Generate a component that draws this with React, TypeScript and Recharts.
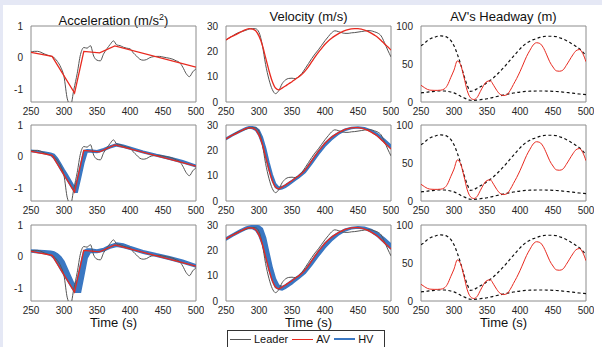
import React from "react";
import { ComposedChart, Line, Area, XAxis, YAxis, ReferenceArea } from "recharts";

// time grid (s)
const time = [250, 255, 260, 265, 270, 275, 280, 285, 290, 295, 300, 305, 310, 315, 320, 325, 330, 335, 340, 345, 350, 355, 360, 365, 370, 375, 380, 385, 390, 395, 400, 405, 410, 415, 420, 425, 430, 435, 440, 445, 450, 455, 460, 465, 470, 475, 480, 485, 490, 495, 500];
const timeTicks = [250, 300, 350, 400, 450, 500];

// acceleration
const leaderAcc = [0.18, 0.2, 0.2, 0.17, 0.12, 0.08, 0.05, 0.0, -0.12, -0.3, -0.6, -1.3, -1.5, -1.0, -0.5, 0.1, 0.32, 0.3, 0.38, 0.05, -0.08, -0.1, 0.12, 0.28, 0.42, 0.53, 0.4, 0.38, 0.33, 0.3, 0.28, 0.15, 0.05, -0.05, -0.08, -0.06, 0.0, 0.03, 0.04, 0.04, 0.02, 0.0, -0.02, -0.05, -0.1, -0.15, -0.3, -0.5, -0.6, -0.45, -0.35];
const avAccTime = [250, 282, 316, 330, 354, 377, 500];
const avAcc = [0.17, 0.04, -1.12, 0.2, 0.15, 0.37, -0.3];

const hvAccTime = [250, 270, 280, 285, 290, 295, 300, 305, 310, 316, 320, 325, 330, 335, 340, 350, 360, 370, 380, 390, 400, 420, 440, 460, 480, 500];
const hvAccLo2 = [0.16, 0.1, 0.04, -0.06, -0.23, -0.41, -0.58, -0.75, -0.92, -1.12, -1.12, -0.68, -0.2, 0.15, 0.15, 0.13, 0.19, 0.28, 0.34, 0.3, 0.24, 0.12, 0.02, -0.08, -0.19, -0.32];
const hvAccHi2 = [0.2, 0.15, 0.11, 0.07, -0.05, -0.22, -0.4, -0.57, -0.75, -0.96, -0.72, -0.25, 0.19, 0.22, 0.21, 0.19, 0.25, 0.34, 0.41, 0.36, 0.3, 0.17, 0.07, -0.02, -0.13, -0.27];
const hvAccLo3 = [0.15, 0.1, 0.04, -0.06, -0.23, -0.41, -0.58, -0.75, -0.92, -1.12, -1.12, -1.12, -0.6, -0.05, 0.14, 0.13, 0.18, 0.27, 0.33, 0.29, 0.23, 0.11, 0.01, -0.09, -0.2, -0.33];
const hvAccHi3 = [0.21, 0.19, 0.17, 0.15, 0.09, 0.0, -0.15, -0.38, -0.62, -0.9, -0.72, -0.25, 0.19, 0.24, 0.24, 0.21, 0.26, 0.36, 0.43, 0.4, 0.32, 0.19, 0.09, 0.0, -0.11, -0.26];

// velocity
const leaderVel = [24.5, 25.3, 26.1, 26.9, 27.5, 27.9, 28.3, 28.8, 29.0, 28.9, 27.5, 22.5, 14.8, 9.0, 5.0, 3.3, 4.5, 7.2, 8.7, 9.3, 9.4, 9.2, 10.0, 11.3, 13.2, 15.2, 17.2, 19.0, 20.6, 22.4, 24.2, 25.8, 27.3, 28.1, 27.8, 27.4, 27.1, 27.1, 27.3, 27.4, 27.6, 27.8, 28.0, 28.2, 28.1, 27.7, 27.2, 26.1, 23.5, 20.5, 17.8];
const avVel = [24.5, 25.3, 26.0, 26.6, 27.3, 28.0, 28.6, 29.0, 28.8, 28.1, 26.0, 22.5, 17.5, 12.5, 8.2, 5.5, 4.8, 5.5, 6.3, 7.2, 8.0, 9.0, 9.9, 10.9, 12.3, 14.0, 15.9, 17.8, 19.6, 21.2, 22.8, 24.1, 25.2, 26.1, 26.9, 27.6, 28.2, 28.6, 28.9, 29.0, 29.0, 28.8, 28.4, 27.9, 27.2, 26.4, 25.5, 24.3, 23.0, 21.8, 20.5];

const hvVelTime = [250, 260, 270, 280, 285, 290, 295, 300, 305, 310, 315, 320, 325, 330, 335, 340, 345, 350, 355, 360, 370, 380, 390, 400, 410, 420, 430, 440, 450, 460, 470, 480, 490, 500];
const hvVelLo2 = [24.2, 25.8, 27.1, 28.4, 28.8, 28.6, 27.9, 25.8, 22.3, 17.3, 12.3, 8.0, 5.3, 4.6, 4.8, 5.4, 6.3, 7.2, 8.2, 9.1, 11.3, 14.7, 18.3, 21.6, 24.2, 26.3, 27.8, 28.6, 28.9, 28.5, 27.4, 25.6, 23.1, 20.6];
const hvVelHi2 = [24.8, 26.3, 27.7, 28.9, 29.3, 29.3, 29.0, 28.0, 25.3, 20.8, 15.3, 10.5, 6.9, 5.4, 5.7, 6.4, 7.3, 8.1, 9.1, 10.0, 12.4, 16.0, 19.7, 22.9, 25.3, 27.0, 28.3, 29.0, 29.2, 28.9, 28.0, 26.5, 24.3, 22.0];
const hvVelLo3 = [24.0, 25.6, 27.0, 28.3, 28.7, 28.6, 27.9, 25.8, 22.3, 17.3, 12.3, 8.0, 5.3, 4.6, 4.4, 5.0, 5.9, 6.8, 7.8, 8.8, 11.0, 14.2, 17.7, 21.0, 23.8, 26.0, 27.6, 28.5, 28.8, 28.4, 27.2, 25.4, 22.9, 20.4];
const hvVelHi3 = [24.9, 26.4, 27.9, 29.1, 29.5, 29.8, 29.8, 29.6, 28.6, 25.0, 19.0, 13.2, 8.7, 6.2, 5.7, 6.4, 7.3, 8.2, 9.1, 10.0, 12.5, 16.0, 19.7, 22.9, 25.3, 27.0, 28.3, 29.0, 29.3, 29.1, 28.2, 26.8, 24.8, 22.5];

// headway
const avHeadway = [22, 19, 16.5, 15.5, 15.3, 15.3, 15.6, 17, 22, 32, 42, 54, 49, 33, 15, 5.5, 3.3, 6, 14, 22, 27, 27.8, 22, 15, 10, 8.5, 9.5, 15, 23, 31, 40, 50, 60, 68, 75, 78, 77, 72, 63, 53, 46, 41, 40.5, 42, 48, 55, 62, 67.5, 69, 64, 53];
const headwayUpper = [74, 77, 81, 83.5, 85, 86.5, 87, 86.5, 85, 81, 74, 63, 50, 35, 22, 14, 15, 17.5, 20, 22.5, 25.5, 28.5, 32, 36, 40.5, 45, 50, 55, 60, 65, 70, 74, 77.5, 80, 82, 83.5, 85, 86, 86.5, 86.5, 86.5, 86, 84.5, 83, 81, 78.5, 76, 73, 70, 66, 61];
const headwayLower = [12, 12.5, 13, 13.5, 14, 14.5, 14.5, 14.5, 14, 13.2, 12, 10, 7.5, 5.5, 3.5, 2.3, 2.2, 2.5, 3, 3.6, 4.3, 5.2, 6.2, 7.2, 8.2, 9.2, 10.2, 11, 11.8, 12.5, 13.1, 13.6, 14, 14.2, 14.4, 14.5, 14.5, 14.5, 14.4, 14.3, 14.1, 13.8, 13.4, 13, 12.6, 12.1, 11.6, 11, 10.5, 10.1, 9.7];

const pts = (ts: number[], vs: number[]) => ts.map((t, i) => ({ t, v: vs[i] }));
const band = (ts: number[], lo: number[], hi: number[]) => ts.map((t, i) => ({ t, r: [lo[i], hi[i]] }));

const FONT = "'Liberation Sans', Arial, Helvetica, sans-serif";
const GRAY = "#555555";
const RED = "#e8291f";
const BLUE = "#3a77c2";

const YW = 30, MT = 6, MR = 8, XH = 20, PW = 165, PH = 76;
const colX = [31, 226, 421];
const rowY = [26, 125, 225];
const tickStyle = { fontSize: 10, fill: "#262626", fontFamily: FONT };

type PanelProps = { x: number; y: number; domain: [number, number]; ticks: number[]; under?: React.ReactNode; over: React.ReactNode };

function Panel({ x, y, domain, ticks, under, over }: PanelProps) {
  const W = YW + PW + MR, H = MT + PH + XH;
  return (
    <div style={{ position: "absolute", left: x - YW, top: y - MT, width: W, height: H }}>
      <div style={{ position: "absolute", left: 0, top: 0 }}>
        <ComposedChart width={W} height={H} margin={{ top: MT, right: MR, left: 0, bottom: 0 }}>
          <XAxis type="number" dataKey="t" domain={[250, 500]} ticks={timeTicks} interval={0} allowDataOverflow
            height={XH} tickLine={false} axisLine={false} tickSize={3} tickMargin={3} tick={tickStyle} />
          <YAxis type="number" domain={domain} ticks={ticks} interval={0} allowDataOverflow
            width={YW} tickLine={false} axisLine={false} tickSize={4} tickMargin={4} tick={tickStyle} />
          <ReferenceArea x1={250} x2={500} y1={domain[0]} y2={domain[1]} fill="none" stroke="#8c8c8c" strokeWidth={1} />
          {under}
        </ComposedChart>
      </div>
      {/* lines drawn above the HV band */}
      <div style={{ position: "absolute", left: 0, top: 0 }}>
        <ComposedChart width={W} height={H} margin={{ top: MT, right: MR, left: YW, bottom: XH }}>
          <XAxis type="number" dataKey="t" domain={[250, 500]} allowDataOverflow hide />
          <YAxis type="number" domain={domain} allowDataOverflow hide />
          {over}
        </ComposedChart>
      </div>
    </div>
  );
}

function hvArea(data: any[]) {
  return (
    <Area data={data} dataKey="r" type="linear" stroke={BLUE} strokeWidth={1.5} fill={BLUE} fillOpacity={1}
      isAnimationActive={false} dot={false} activeDot={false} />
  );
}

function accPanel(row: number, hv: any[] | null) {
  return (
    <Panel key={"a" + row} x={colX[0]} y={rowY[row]} domain={[-1.4, 1]} ticks={[-1, 0, 1]}
      under={hv ? hvArea(hv) : null}
      over={[
        <Line key="l" data={pts(time, leaderAcc)} dataKey="v" type="monotone" stroke={GRAY} strokeWidth={1} dot={false} isAnimationActive={false} />,
        <Line key="a" data={pts(avAccTime, avAcc)} dataKey="v" type="linear" stroke={RED} strokeWidth={1.3} dot={false} isAnimationActive={false} />,
      ]} />
  );
}

function velPanel(row: number, hv: any[] | null) {
  return (
    <Panel key={"v" + row} x={colX[1]} y={rowY[row]} domain={[0, 30]} ticks={[0, 10, 20, 30]}
      under={hv ? hvArea(hv) : null}
      over={[
        <Line key="l" data={pts(time, leaderVel)} dataKey="v" type="monotone" stroke={GRAY} strokeWidth={1} dot={false} isAnimationActive={false} />,
        <Line key="a" data={pts(time, avVel)} dataKey="v" type="monotone" stroke={RED} strokeWidth={1.3} dot={false} isAnimationActive={false} />,
      ]} />
  );
}

function headPanel(row: number) {
  return (
    <Panel key={"h" + row} x={colX[2]} y={rowY[row]} domain={[0, 100]} ticks={[0, 50, 100]}
      over={[
        <Line key="u" data={pts(time, headwayUpper)} dataKey="v" type="monotone" stroke="#111" strokeWidth={1.2} strokeDasharray="3 2.5" dot={false} isAnimationActive={false} />,
        <Line key="d" data={pts(time, headwayLower)} dataKey="v" type="monotone" stroke="#111" strokeWidth={1.2} strokeDasharray="3 2.5" dot={false} isAnimationActive={false} />,
        <Line key="a" data={pts(time, avHeadway)} dataKey="v" type="monotone" stroke={RED} strokeWidth={1} dot={false} isAnimationActive={false} />,
      ]} />
  );
}

const titleStyle: React.CSSProperties = { position: "absolute", top: 9, width: PW, textAlign: "center", fontSize: 13, lineHeight: "16px", color: "#111" };
const xLabelStyle: React.CSSProperties = { position: "absolute", top: 316, width: PW, textAlign: "center", fontSize: 13, lineHeight: "14px", color: "#111" };

function LegendItem({ color, label, w }: { color: string; label: string; w: number }) {
  return (
    <span style={{ display: "inline-flex", alignItems: "center", marginRight: 4 }}>
      <span style={{ display: "inline-block", width: w, height: 0, borderTop: `${color === BLUE ? 2 : 1}px solid ${color}`, marginRight: 3 }} />
      <span>{label}</span>
    </span>
  );
}

export default function App() {
  return (
    <div style={{ position: "fixed", left: 0, top: 0, width: 602, height: 347, background: "#e5e8f5", overflow: "hidden", fontFamily: FONT }}>
      <div style={{ position: "absolute", left: 3, top: 5, right: 0, bottom: 0, background: "#fff" }} />
      <div style={{ ...titleStyle, left: colX[0] }}>Acceleration (m/s<sup style={{ fontSize: 9 }}>2</sup>)</div>
      <div style={{ ...titleStyle, left: colX[1] }}>Velocity (m/s)</div>
      <div style={{ ...titleStyle, left: colX[2] }}>AV's Headway (m)</div>

      {accPanel(0, null)}
      {accPanel(1, band(hvAccTime, hvAccLo2, hvAccHi2))}
      {accPanel(2, band(hvAccTime, hvAccLo3, hvAccHi3))}
      {velPanel(0, null)}
      {velPanel(1, band(hvVelTime, hvVelLo2, hvVelHi2))}
      {velPanel(2, band(hvVelTime, hvVelLo3, hvVelHi3))}
      {headPanel(0)}
      {headPanel(1)}
      {headPanel(2)}

      <div style={{ ...xLabelStyle, left: colX[0] }}>Time (s)</div>
      <div style={{ ...xLabelStyle, left: colX[1] }}>Time (s)</div>
      <div style={{ ...xLabelStyle, left: colX[2] }}>Time (s)</div>

      <div style={{ position: "absolute", left: 227, top: 330, width: 154, height: 16, border: "1px solid #333", background: "#fff",
        display: "flex", alignItems: "center", paddingLeft: 2, fontSize: 11, color: "#111", boxSizing: "content-box" }}>
        <LegendItem color={GRAY} label="Leader" w={21} />
        <LegendItem color={RED} label="AV" w={21} />
        <LegendItem color={BLUE} label="HV" w={21} />
      </div>
    </div>
  );
}
